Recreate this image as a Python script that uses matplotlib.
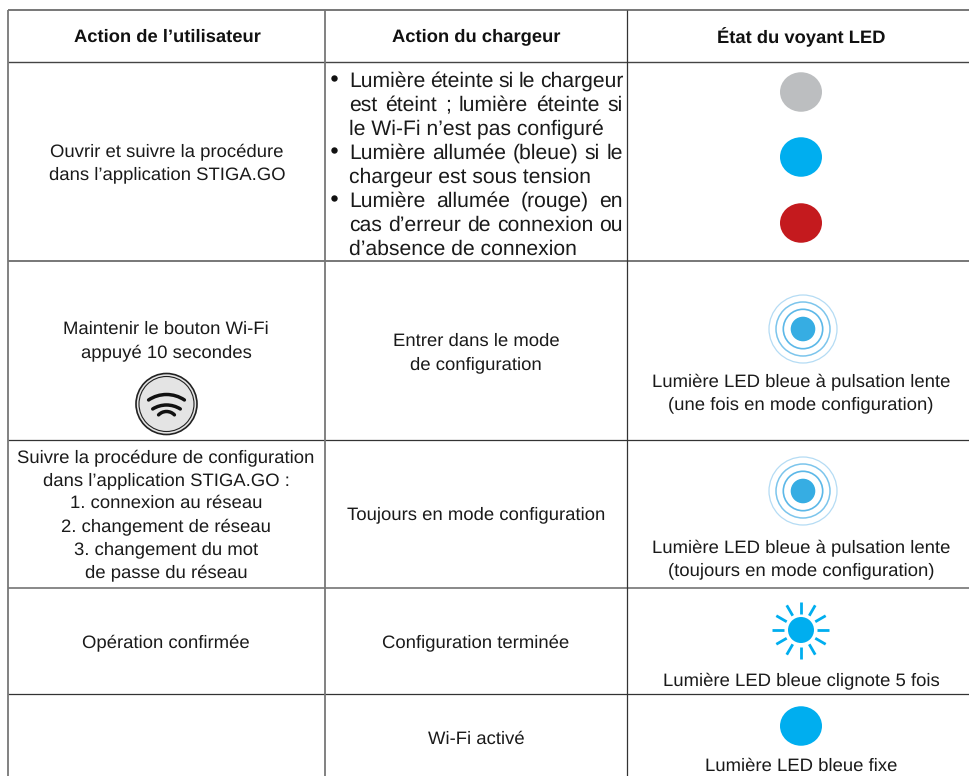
import math
import matplotlib
matplotlib.use("Agg")
import matplotlib.pyplot as plt
from matplotlib.patches import Ellipse, Circle, Arc

plt.rcParams['font.family'] = ['Liberation Sans', 'DejaVu Sans']
plt.rcParams['text.hinting'] = 'no_hinting'

W, H = 969, 776
col_edges = [8, 325, 627]
col_colors = ["#777777", "#777777", "#333333"]
col_widths = [1.3, 1.3, 0.9]
row_edges = [10, 62, 261, 440, 588, 694]
row_colors = ["#777777", "#444444", "#777777", "#333333", "#888888", "#333333"]
row_widths = [1.4, 1.0, 1.4, 0.9, 1.4, 0.9]

headers = ["Action de l’utilisateur", "Action du chargeur", "État du voyant LED"]
header_x = [167, 476, 801]

col1_texts = [
    (167, 163, "Ouvrir et suivre la procédure\ndans l’application STIGA.GO"),
    (166, 341, "Maintenir le bouton Wi-Fi\nappuyé 10 secondes"),
    (166, 515, "Suivre la procédure de configuration\ndans l’application STIGA.GO :\n1. connexion au réseau\n2. changement de réseau\n3. changement du mot\nde passe du réseau"),
    (166, 643, "Opération confirmée"),
]
col2_texts = [
    (476, 353, "Entrer dans le mode\nde configuration"),
    (476, 515, "Toujours en mode configuration"),
    (476, 643, "Configuration terminée"),
    (476, 739, "Wi-Fi activé"),
]
col3_texts = [
    (801, 393, "Lumière LED bleue à pulsation lente\n(une fois en mode configuration)"),
    (801, 559, "Lumière LED bleue à pulsation lente\n(toujours en mode configuration)"),
    (801, 681, "Lumière LED bleue clignote 5 fois"),
    (801, 766, "Lumière LED bleue fixe"),
]
# text, justified, has a bullet
bullet_lines = [
    ("Lumière éteinte si le chargeur", True, True),
    ("est éteint ; lumière éteinte si", True, False),
    ("le Wi-Fi n’est pas configuré", False, False),
    ("Lumière allumée (bleue) si le", True, True),
    ("chargeur est sous tension", False, False),
    ("Lumière allumée (rouge) en", True, True),
    ("cas d’erreur de connexion ou", True, False),
    ("d’absence de connexion", False, False),
]
bullet_y = [79, 103, 127, 151, 175, 199, 223, 247]
led_dots = [(801, 92, "#bcbec0"), (801, 157, "#00aeef"), (801, 223, "#c41a1e"), (801, 726, "#00aeef")]
pulse_centers = [(803, 329), (803, 491)]
pulse_rings = [(19.7, "#5cb8e8", 1.2), (27, "#7cc5ec", 1.1), (34, "#b5dcf4", 0.9)]
sun_center = (801, 630)
wifi_arcs = [(32, 34, 394.5), (26, 32, 405), (11, 46, 411.5)]

fig = plt.figure(figsize=(W / 100, H / 100), dpi=100)
ax = fig.add_axes([0, 0, 1, 1])
ax.set_xlim(0, W)
ax.set_ylim(H, 0)
ax.axis("off")

for y, c, lw in zip(row_edges, row_colors, row_widths):
    ax.plot([col_edges[0], W], [y, y], color=c, lw=lw, solid_capstyle="butt")
for x, c, lw in zip(col_edges, col_colors, col_widths):
    ax.plot([x, x], [row_edges[0], H], color=c, lw=lw, solid_capstyle="butt")

for x, h in zip(header_x, headers):
    ax.text(x, 37, h, ha="center", va="center", fontsize=13.2, fontweight="bold", color="#111111")

for x, y, s in col1_texts + col2_texts + col3_texts:
    ax.text(x, y, s, ha="center", va="center", fontsize=13.3, color="#1a1a1a", linespacing=1.47)

renderer = fig.canvas.get_renderer()
left, right = 349, 623
for (s, just, bullet), y in zip(bullet_lines, bullet_y):
    if bullet:
        ax.plot([334], [y - 1], "o", ms=4.6, color="#111111", mew=0)
    if not just:
        ax.text(left, y, s, ha="left", va="center_baseline", fontsize=15.25, color="#1a1a1a")
        continue
    words = s.split(" ")
    arts = [ax.text(0, y, w, ha="left", va="center_baseline", fontsize=15.25, color="#1a1a1a") for w in words]
    widths = [a.get_window_extent(renderer).width for a in arts]
    gap = (right - left - sum(widths)) / (len(words) - 1)
    x = left
    for a, w in zip(arts, widths):
        a.set_x(x)
        x += w + gap

for x, y, c in led_dots:
    ax.add_patch(Ellipse((x, y), 42, 39.5, color=c, lw=0))

for cx, cy in pulse_centers:
    ax.add_patch(Circle((cx, cy), 12.3, color="#36ade3", lw=0))
    for r, c, lw in pulse_rings:
        ax.add_patch(Circle((cx, cy), r, fill=False, ec=c, lw=lw))

# sun icon
cx, cy = sun_center
ax.add_patch(Circle((cx, cy), 13, color="#00aeef", lw=0))
for k in range(12):
    t = math.radians(k * 30)
    ax.plot([cx + 16.5 * math.cos(t), cx + 28.5 * math.cos(t)], [cy + 16.5 * math.sin(t), cy + 28.5 * math.sin(t)],
            color="#00aeef", lw=2.0, solid_capstyle="butt")

# wifi button
bx, by = 166.5, 404
ax.add_patch(Circle((bx, by), 30.5, fc="#e4e4e4", ec="#222222", lw=1.2))
ax.add_patch(Circle((bx, by), 27.5, fill=False, ec="#222222", lw=0.8))
for r, half, top in wifi_arcs:
    ax.add_patch(Arc((bx, top + r), 2 * r, 2 * r, theta1=270 - half, theta2=270 + half, color="#111111", lw=2.5,
                     capstyle="round"))

plt.savefig("out.png", dpi=100)
